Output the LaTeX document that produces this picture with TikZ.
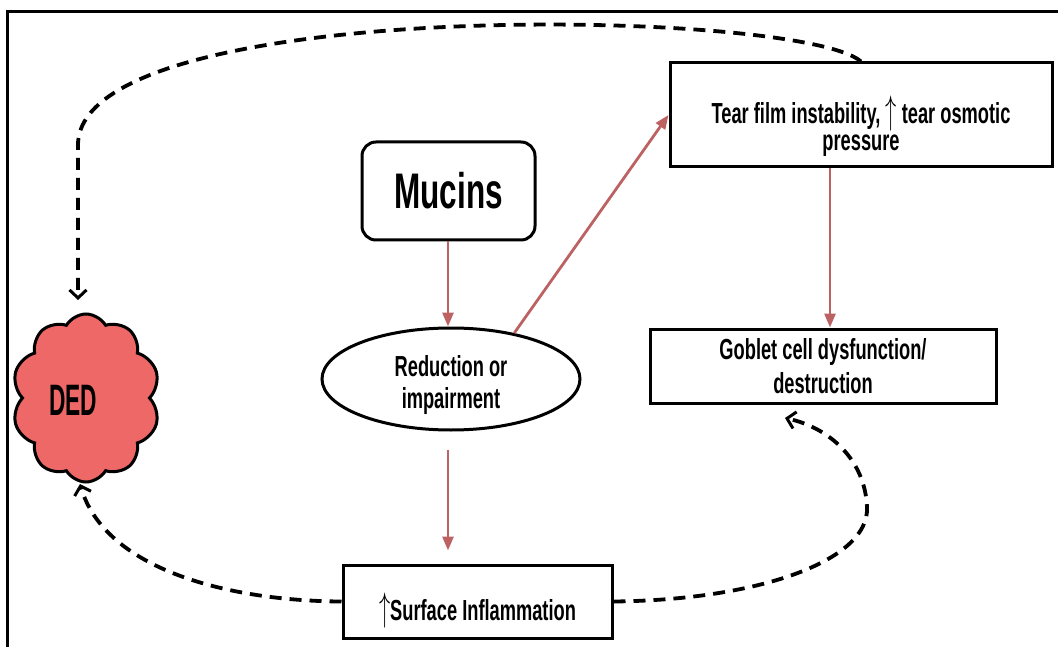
\documentclass[tikz,border=0pt]{standalone}
\usepackage{fontspec}
\newfontfamily\cond{Liberation Sans}[FakeStretch=0.63]
\usetikzlibrary{shapes.geometric,shapes.symbols,arrows.meta}
\definecolor{dedred}{RGB}{238,104,104}
\definecolor{arrred}{RGB}{188,98,98}
\newcommand{\tallup}{\scalebox{0.9}[1.6]{$\uparrow$}}
\tikzset{
  txt/.style={font=\cond\bfseries\fontsize{29}{34}\selectfont, align=center, inner sep=0pt},
  box/.style={draw=black, line width=3pt, fill=white, inner sep=0pt, align=center, txt},
  redarrow/.style={draw=arrred, line width=2.8pt, -{Triangle[length=14pt,width=11pt]}},
  dasharrow/.style={draw=black, line width=3.8pt, dash pattern=on 12pt off 8pt,
    -{Straight Barb[length=8pt,width=17pt,line width=3pt]}},
}
\begin{document}
\begin{tikzpicture}[x=1pt,y=-1pt]
\useasboundingbox (0,0) rectangle (1058,647);
\draw[line width=3pt] (7,647) -- (7,12) -- (1058,12);

\node[box, rounded corners=14pt, minimum width=173, minimum height=98,
      font=\cond\bfseries\fontsize{50}{56}\selectfont] (mucins) at (448.5,191) {Mucins};
\node[box, ellipse, minimum width=258, minimum height=102,
      label={[txt, yshift=-6pt, font=\cond\bfseries\fontsize{29}{32}\selectfont]center:Reduction or\\impairment}] (ell) at (451,379) {};
\node[box, minimum width=382, minimum height=104,
      label={[txt, yshift=-11pt, font=\cond\bfseries\fontsize{29}{27}\selectfont]center:Tear film instability, \tallup\ tear osmotic\\pressure}] (tear) at (861,115) {};
\node[box, minimum width=346, minimum height=74] (goblet) at (823,366)
      {Goblet cell dysfunction/\\destruction};
\node[box, minimum width=269, minimum height=73,
      label={[txt, yshift=-9pt]center:\tallup Surface Inflammation}] (surf) at (477.5,601.5) {};
\node[cloud, cloud puffs=10, cloud puff arc=120, aspect=0.88, draw=black, line width=3pt,
      fill=dedred, minimum width=148, minimum height=168, inner sep=0pt,
      label={[inner sep=0pt, xshift=-13pt, yshift=-2pt]center:{\cond\bfseries\fontsize{44}{46}\selectfont\scalebox{0.82}[1]{DED}}}] (ded) at (86,398) {};

\coordinate (gx) at (830,0);
\coordinate (sx) at (448,0);
\coordinate (dedin) at (78,300);
\coordinate (dedbot) at (80,484);
\coordinate (gobin) at (785,418);

\draw[redarrow] (mucins.south -| sx) -- (ell.north -| sx);
\draw[redarrow] (ell.36) -- (tear.west);
\draw[redarrow] (gx |- tear.south) -- (gx |- goblet.north);
\draw[redarrow] ([yshift=-18pt]ell.south -| sx) -- ([yshift=13pt]surf.north -| sx);

\draw[dasharrow] (tear.north) .. controls (800,8) and (78,-5) .. (78,145) -- (dedin);
\draw[dasharrow] (surf.west) .. controls (230,601) and (105,570) .. (dedbot);
\draw[dasharrow] (surf.east) .. controls (760,600) and (870,560) .. (867,507)
   .. controls (865,460) and (830,428) .. (gobin);
\end{tikzpicture}
\end{document}
